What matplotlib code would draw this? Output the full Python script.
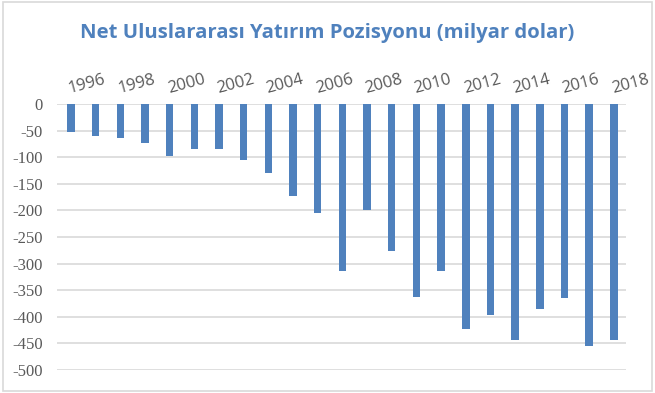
import matplotlib
matplotlib.use('Agg')
import matplotlib.pyplot as plt
from matplotlib.patches import Rectangle

############################### DATA ##########################################

years  = list(range(1996, 2019))
values = [-53, -60, -64, -74, -98, -84, -84, -105, -129, -173, -204, -314,
          -200, -276, -362, -313, -423, -396, -444, -386, -365, -455, -444]
yticks = [0, -50, -100, -150, -200, -250, -300, -350, -400, -450, -500]
title  = 'Net Uluslararası Yatırım Pozisyonu (milyar dolar)'

############################### PLOT ##########################################

blue = '#4F81BD'
grey = '#595959'

fig = plt.figure(figsize=(6.55, 3.93), dpi=100)
ax = fig.add_axes([0.087, 0.0585, 0.869, 0.677])

x = list(range(len(years)))
ax.bar(x, values, width=0.3, color=blue, zorder=3)

ax.set_xlim(-0.57, len(years) - 0.5)
ax.set_ylim(-500, 0)

# gridlines + y labels (serif, zoals in origineel)
ax.set_yticks(yticks, labels=[str(v) for v in yticks],
              family='Liberation Serif', fontsize=12, color=grey)
ax.yaxis.grid(True, color='#D9D9D9', linewidth=1.2, zorder=0)
ax.tick_params(axis='y', length=0, pad=10)

# year labels on top, every other year
ax.xaxis.tick_top()
ax.set_xticks(x[::2])
ax.set_xticklabels([str(y) for y in years[::2]], rotation=15,
                   ha='left', va='bottom', rotation_mode='anchor',
                   fontsize=12, color=grey, family='Open Sans')
ax.tick_params(axis='x', length=0, pad=5)

for s in ax.spines.values():
    s.set_visible(False)

fig.text(0.5, 0.915, title, ha='center', va='center', fontsize=14.6,
         fontweight='bold', color=blue, family='Open Sans')

# frame around chart
fig.patches.append(Rectangle((0.004, 0.004), 0.992, 0.992, transform=fig.transFigure,
                             fill=False, edgecolor='#D9D9D9', linewidth=1.2))

fig.savefig('out.png', dpi=100)
